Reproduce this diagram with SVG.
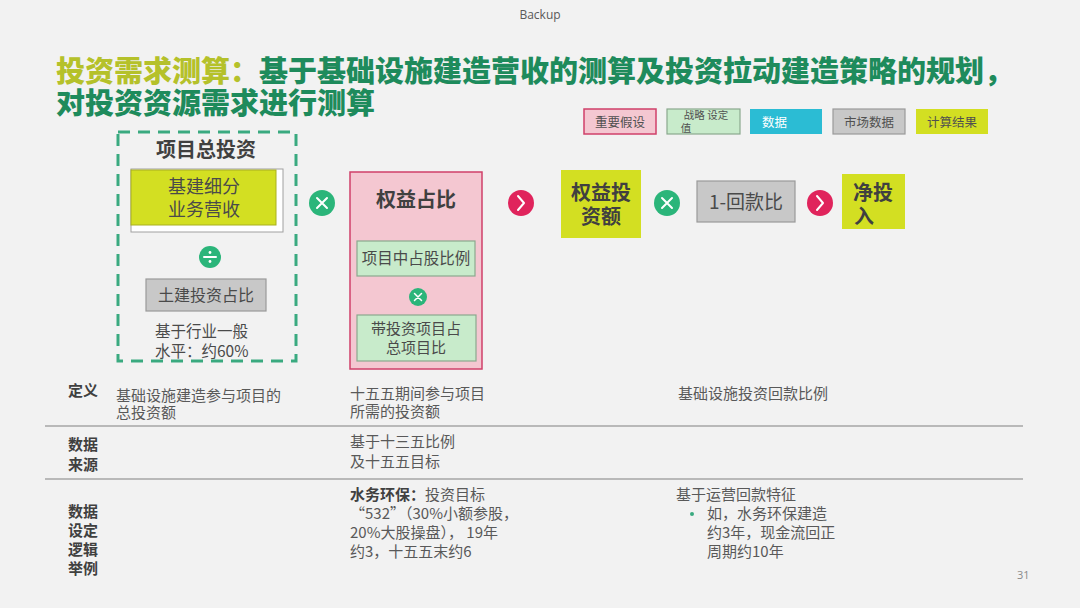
<svg xmlns="http://www.w3.org/2000/svg" width="1080" height="608" viewBox="0 0 1080 608">
<style>
text{font-family:"Noto Sans CJK SC","Noto Sans",sans-serif;}
.t1{font-size:29px;font-weight:900;}
.hd{font-size:20px;font-weight:700;fill:#404040;}
.bx{font-size:15.5px;fill:#4a4a4a;}
.lg{font-size:12.5px;fill:#505050;}
.tb{font-size:15px;fill:#595959;}
.tl{font-size:15px;font-weight:700;fill:#404040;}
.pink{fill:#f4c7d1;stroke:#d0406a;stroke-width:1.5;}
.lgreen{fill:#c8ebcb;stroke:#8aa88e;stroke-width:1.2;}
.gray{fill:#c8c8c8;stroke:#9a9a9a;stroke-width:1.2;}
.yel{fill:#d3df22;}
.opg{fill:#2bb57a;}
.opr{fill:#e0245c;}
.sym{stroke:#ffffff;stroke-width:2;fill:none;stroke-linecap:round;stroke-linejoin:round;}
</style>
<rect width="1080" height="608" fill="#f2f2f2"/>
<text x="540" y="19" text-anchor="middle" style="font-family:'Open Sans',sans-serif;font-size:12px;fill:#595959">Backup</text>
<g id="title">
<text class="t1" x="56" y="82"><tspan fill="#b5c12a">投资需求测算：</tspan><tspan fill="#1e8b5c">基于基础设施建造营收的测算及投资拉动建造策略的规划，</tspan></text>
<text class="t1" x="56" y="114" fill="#1e8b5c">对投资资源需求进行测算</text>
</g>
<g id="legend">
<rect class="pink" x="584" y="109" width="72" height="25"/>
<text class="lg" x="620" y="127" text-anchor="middle">重要假设</text>
<rect class="lgreen" x="667" y="109" width="73" height="25"/>
<text x="706" y="119" text-anchor="middle" style="font-size:10.5px;fill:#505050">战略 设定</text>
<text x="686" y="132" text-anchor="middle" style="font-size:10.5px;fill:#505050">值</text>
<rect x="750" y="109" width="72" height="25" fill="#2bbcd4"/>
<text class="lg" x="762" y="127" style="fill:#ffffff">数据</text>
<rect class="gray" x="833" y="109" width="72" height="25"/>
<text class="lg" x="869" y="127" text-anchor="middle">市场数据</text>
<rect class="yel" x="916" y="109" width="72" height="25"/>
<text class="lg" x="952" y="127" text-anchor="middle">计算结果</text>
</g>
<g id="node-total-investment">
<rect x="118" y="132" width="178" height="229" fill="none" stroke="#3aaa80" stroke-width="3" stroke-dasharray="12 8"/>
<text class="hd" x="206" y="157" text-anchor="middle">项目总投资</text>
</g>
<g id="node-revenue">
<rect x="131" y="169" width="152" height="63" fill="#ffffff" stroke="#a0a0a0" stroke-width="1"/>
<rect x="131" y="170" width="145" height="55" class="yel" stroke="#a9b020" stroke-width="1"/>
<text x="204" y="193" text-anchor="middle" style="font-size:18px;fill:#4a4a4a">基建细分</text>
<text x="204" y="216" text-anchor="middle" style="font-size:18px;fill:#4a4a4a">业务营收</text>
</g>
<g id="node-civil-ratio">
<rect class="gray" x="146" y="279" width="120" height="32"/>
<text x="206" y="301" text-anchor="middle" style="font-size:16px;fill:#4a4a4a">土建投资占比</text>
<text class="bx" x="155" y="337">基于行业一般</text>
<text class="bx" x="155" y="357">水平：约60%</text>
</g>
<g id="node-equity-ratio">
<rect class="pink" x="350" y="172" width="132" height="197"/>
<text class="hd" x="416" y="207" text-anchor="middle">权益占比</text>
</g>
<g id="node-share-ratio">
<rect class="lgreen" x="357" y="241" width="118" height="35"/>
<text class="bx" x="416" y="264" text-anchor="middle">项目中占股比例</text>
</g>
<g id="node-project-ratio">
<rect class="lgreen" x="357" y="315" width="119" height="46"/>
<text x="416" y="334" text-anchor="middle" style="font-size:15px;fill:#4a4a4a">带投资项目占</text>
<text x="416" y="353" text-anchor="middle" style="font-size:15px;fill:#4a4a4a">总项目比</text>
</g>
<g id="node-equity-investment">
<rect class="yel" x="561" y="170" width="80" height="68"/>
<text class="hd" x="601" y="200" text-anchor="middle">权益投</text>
<text class="hd" x="601" y="224" text-anchor="middle">资额</text>
</g>
<g id="node-payback">
<rect class="gray" x="697" y="181" width="98" height="41"/>
<text x="746" y="209" text-anchor="middle" style="font-size:19px;fill:#4a4a4a">1-回款比</text>
</g>
<g id="node-net-investment">
<rect class="yel" x="842" y="174" width="63" height="55"/>
<text class="hd" x="873" y="200" text-anchor="middle">净投</text>
<text class="hd" x="854" y="224">入</text>
</g>
<g id="connectors">
<circle class="opg" cx="322" cy="203" r="13"/>
<path class="sym" d="M317 198 L327 208 M327 198 L317 208"/>
<circle class="opg" cx="210" cy="257" r="11"/>
<path class="sym" d="M204 257 H216"/>
<circle cx="210" cy="252.5" r="1.4" fill="#ffffff"/>
<circle cx="210" cy="261.5" r="1.4" fill="#ffffff"/>
<circle class="opg" cx="418" cy="297" r="9"/>
<path class="sym" style="stroke-width:1.5" d="M414.5 293.5 L421.5 300.5 M421.5 293.5 L414.5 300.5"/>
<circle class="opr" cx="521" cy="203" r="13"/>
<path class="sym" d="M518 196 L524 203 L518 210"/>
<circle class="opg" cx="667" cy="203" r="13"/>
<path class="sym" d="M662 198 L672 208 M672 198 L662 208"/>
<circle class="opr" cx="820" cy="203" r="13"/>
<path class="sym" d="M817 196 L823 203 L817 210"/>
</g>
<g id="table">
<line x1="45" y1="426" x2="1023" y2="426" stroke="#a6a6a6" stroke-width="1.5"/>
<line x1="45" y1="479" x2="1023" y2="479" stroke="#a6a6a6" stroke-width="1.5"/>
<text class="tl" x="68" y="396">定义</text>
<text class="tb" x="116" y="401">基础设施建造参与项目的</text>
<text class="tb" x="116" y="418">总投资额</text>
<text class="tb" x="350" y="399">十五五期间参与项目</text>
<text class="tb" x="350" y="417">所需的投资额</text>
<text class="tb" x="678" y="399">基础设施投资回款比例</text>
<text class="tl" x="68" y="450">数据</text>
<text class="tl" x="68" y="470">来源</text>
<text class="tb" x="350" y="447">基于十三五比例</text>
<text class="tb" x="350" y="467">及十五五目标</text>
<text class="tl" x="68" y="517">数据</text>
<text class="tl" x="68" y="536">设定</text>
<text class="tl" x="68" y="555">逻辑</text>
<text class="tl" x="68" y="574">举例</text>
<text class="tb" x="350" y="500"><tspan font-weight="700" fill="#404040">水务环保：</tspan>投资目标</text>
<text class="tb" x="350" y="519">“532”（30%小额参股，</text>
<text class="tb" x="350" y="538">20%大股操盘）， 19年</text>
<text class="tb" x="350" y="557">约3，十五五末约6</text>
<text class="tb" x="676" y="500">基于运营回款特征</text>
<circle cx="692" cy="514" r="2" fill="#3aaa80"/>
<text class="tb" x="707" y="519">如，水务环保建造</text>
<text class="tb" x="707" y="538">约3年，现金流回正</text>
<text class="tb" x="707" y="557">周期约10年</text>
</g>
<text x="1017" y="579" style="font-family:'Open Sans',sans-serif;font-size:11px;fill:#8a8a8a">31</text>
</svg>
